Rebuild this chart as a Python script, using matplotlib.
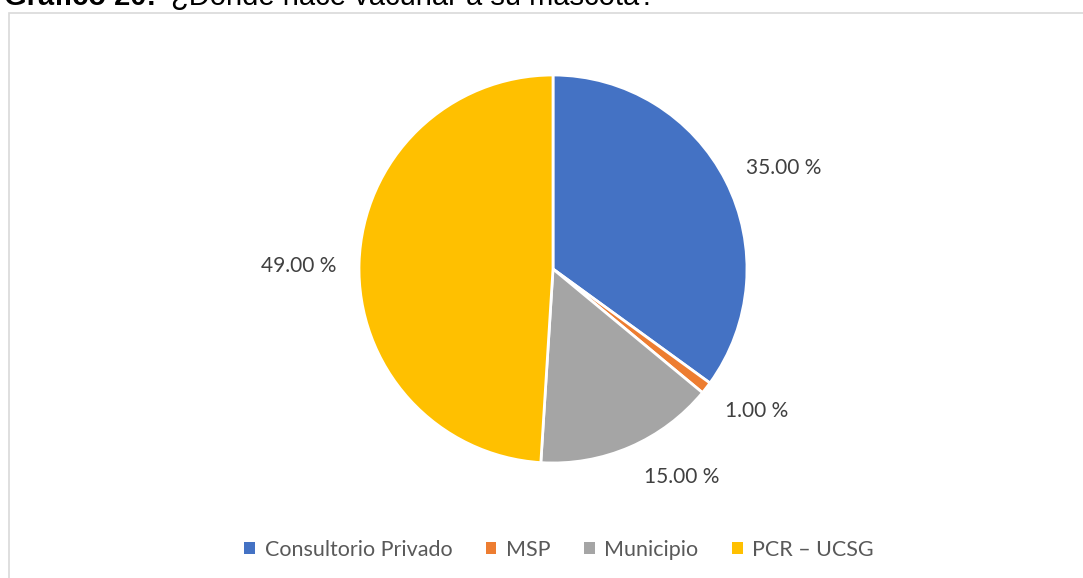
import numpy as np
import matplotlib.pyplot as plt
from matplotlib.patches import Rectangle

# datos del grafico
categorias = ['Consultorio Privado', 'MSP', 'Municipio', 'PCR – UCSG']
porcentajes = [35.0, 1.0, 15.0, 49.0]
colores = ['#4472C4', '#ED7D31', '#A5A5A5', '#FFC000']

W, H = 1083, 578
fig = plt.figure(figsize=(W / 100, H / 100), dpi=100)

# marco gris del area del grafico (cortado a la derecha y abajo)
fig.patches.append(Rectangle((9 / W, -0.05), 1.2, 1.05 - 13 / H, transform=fig.transFigure,
                             fill=False, edgecolor='#d9d9d9', linewidth=1.2))

# titulo (cortado arriba, como en la captura original)
fig.text(4 / W, 1 - 5 / H, 'Gráfico 20:', fontsize=21, fontweight='bold',
         family='Liberation Sans', va='baseline', ha='left')
fig.text(171 / W, 1 - 5 / H, '¿Donde hace vacunar a su mascota?', fontsize=21,
         family='Liberation Sans', va='baseline', ha='left')

ax = fig.add_axes([359 / W, 1 - 463 / H, 388 / W, 388 / H])
wedges, texts = ax.pie(porcentajes, colors=colores, startangle=90, counterclock=False,
                       wedgeprops=dict(edgecolor='white', linewidth=2))
ax.set_xlim(-1, 1)
ax.set_ylim(-1, 1)

# etiquetas de datos fuera del pastel (ajuste "mejor ajuste" de Excel)
giro = [-3.4, 2.8, 8.4, 1.1]
distancia = [1.30, 1.28, 1.26, 1.31]
for w, p, g, d in zip(wedges, porcentajes, giro, distancia):
    ang = np.deg2rad((w.theta1 + w.theta2) / 2 + g)
    ax.text(d * np.cos(ang), d * np.sin(ang), '%.2f %%' % p, ha='center', va='center',
            color='#404040', fontsize=15, family='Lato')

leg = fig.legend(wedges, categorias, loc='center', bbox_to_anchor=(559 / W, 1 - 550 / H),
                 ncol=4, frameon=False, handlelength=0.5, handleheight=0.5,
                 handletextpad=0.45, columnspacing=1.55,
                 prop=dict(family='Lato', size=15.5))
for t in leg.get_texts():
    t.set_color('#595959')
for h in leg.legend_handles:
    h.set_edgecolor('none')

fig.savefig('out.png', dpi=100)
